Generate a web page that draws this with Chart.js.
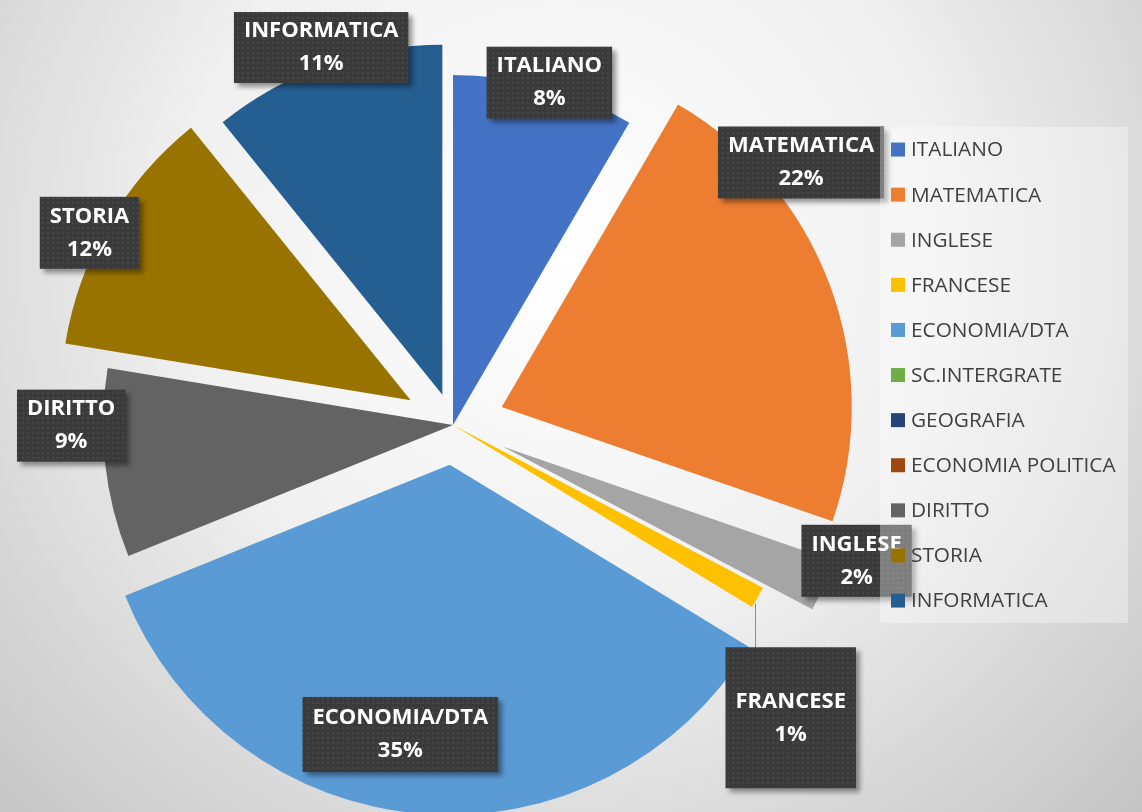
<!DOCTYPE html>
<html>
<head>
<meta charset="utf-8">
<script src="https://cdn.jsdelivr.net/npm/chart.js@4.4.1/dist/chart.umd.min.js"></script>
<style>
  html, body { margin: 0; padding: 0; overflow: hidden; background: #e6e6e6; }
  canvas { display: block; }
</style>
</head>
<body>
<canvas id="pie" width="1142" height="812"></canvas>
<script>
// ── Data ─────────────────────────────────────────────
const SUBJECTS = ['ITALIANO', 'MATEMATICA', 'INGLESE', 'FRANCESE', 'ECONOMIA/DTA', 'SC.INTERGRATE',
                  'GEOGRAFIA', 'ECONOMIA POLITICA', 'DIRITTO', 'STORIA', 'INFORMATICA'];
const SHARE    = [8.4, 21.9, 2.4, 1.0, 35.2, 0, 0, 0, 8.7, 11.6, 10.8];
const COLORS   = ['#4472C4', '#ED7D31', '#A5A5A5', '#FFC000', '#5B9BD5', '#70AD47',
                  '#264478', '#9E480E', '#636363', '#997300', '#255E91'];

// how far each slice is pulled out of the pie (px)
const EXPLODE  = [0, 52, 54, 0, 40, 0, 0, 0, 0, 49, 32];
// label box placement: [distance / radius, angle shift from slice middle (deg), box height, leader line]
const LABEL_PLACE = [
  [1.016, 0.6, 72], [1.104, -18.9, 72], [1.063, -5.5, 72], [1.277, 11.4, 141, true],
  [0.783, 5.7, 75], null, null, null, [1.091, 6.2, 72], [1.035, -2.7, 72], [1.051, 0.2, 71],
];

const LABEL_FONT  = 'bold 22px "Open Sans"';
const LEGEND_FONT = '20.8px "Open Sans"';

// ── Helpers ──────────────────────────────────────────
function dottedPattern(ctx) {
  const c = document.createElement('canvas');
  c.width = c.height = 5;
  const p = c.getContext('2d');
  p.fillStyle = '#3a3a3a'; p.fillRect(0, 0, 5, 5);
  p.fillStyle = '#474747'; p.fillRect(2, 2, 2, 2);
  return ctx.createPattern(c, 'repeat');
}

function explodedCenter(arc, i) {
  const mid = (arc.startAngle + arc.endAngle) / 2;
  return { x: arc.x + Math.cos(mid) * EXPLODE[i], y: arc.y + Math.sin(mid) * EXPLODE[i], mid };
}

// ── Plugins ──────────────────────────────────────────
const backdrop = {
  id: 'backdrop',
  beforeDraw(chart) {
    const { ctx, width, height } = chart;
    const g = ctx.createRadialGradient(560, 250, 0, 560, 250, 850);
    g.addColorStop(0, '#ffffff');
    g.addColorStop(0.45, '#f0f0f0');
    g.addColorStop(1, '#c0c0c0');
    ctx.save();
    ctx.fillStyle = g;
    ctx.fillRect(0, 0, width, height);
    ctx.restore();
  },
};

// draws every arc moved outward by its EXPLODE distance
const explode = {
  id: 'explode',
  beforeDatasetDraw(chart, args) {
    const ctx = chart.ctx;
    args.meta.data.forEach((arc, i) => {
      const c = explodedCenter(arc, i);
      ctx.save();
      ctx.translate(c.x - arc.x, c.y - arc.y);
      arc.draw(ctx);
      ctx.restore();
    });
    return false;
  },
};

const boxLabels = {
  id: 'boxLabels',
  afterDatasetsDraw(chart) {
    const ctx = chart.ctx;
    const total = SHARE.reduce((s, v) => s + v, 0);
    const pattern = dottedPattern(ctx);
    chart.getDatasetMeta(0).data.forEach((arc, i) => {
      const place = LABEL_PLACE[i];
      if (!place || !SHARE[i]) return;
      const c = explodedCenter(arc, i);
      const a = c.mid + place[1] * Math.PI / 180;
      const lx = c.x + Math.cos(a) * arc.outerRadius * place[0];
      const ly = c.y + Math.sin(a) * arc.outerRadius * place[0];
      const name = SUBJECTS[i];
      const pct = Math.round(SHARE[i] / total * 100) + '%';

      ctx.save();
      ctx.font = LABEL_FONT;
      const w = Math.max(ctx.measureText(name).width, ctx.measureText(pct).width) + 20;
      const h = place[2];
      const bx = lx - w / 2, by = ly - h / 2;

      if (place[3]) {
        const tx = c.x + Math.cos(c.mid) * arc.outerRadius;
        const ty = c.y + Math.sin(c.mid) * arc.outerRadius;
        ctx.strokeStyle = '#8c8c8c';
        ctx.lineWidth = 1;
        ctx.beginPath();
        ctx.moveTo(Math.round(tx) - 2.5, ty + 6);
        ctx.lineTo(Math.round(tx) - 2.5, by);
        ctx.stroke();
      }

      ctx.shadowColor = 'rgba(0,0,0,0.4)';
      ctx.shadowBlur = 5;
      ctx.shadowOffsetX = 4;
      ctx.shadowOffsetY = 4;
      ctx.fillStyle = pattern;
      ctx.fillRect(bx, by, w, h);
      ctx.shadowColor = 'transparent';

      ctx.fillStyle = '#ffffff';
      ctx.textAlign = 'center';
      ctx.textBaseline = 'middle';
      ctx.fillText(name, lx, ly - 16.5);
      ctx.fillText(pct, lx, ly + 16.5);
      ctx.restore();
    });
  },
};

const sideLegend = {
  id: 'sideLegend',
  afterDraw(chart) {
    const ctx = chart.ctx;
    const left = 880, top = 127, w = 248, rowH = 45.1;
    const labels = chart.data.labels;
    const colors = chart.data.datasets[0].backgroundColor;
    ctx.save();
    ctx.fillStyle = 'rgba(255,255,255,0.35)';
    ctx.fillRect(left, top, w, rowH * labels.length);
    ctx.font = LEGEND_FONT;
    ctx.textBaseline = 'middle';
    labels.forEach((lab, i) => {
      const cy = top + rowH * (i + 0.5);
      ctx.fillStyle = colors[i];
      ctx.fillRect(left + 11, cy - 7, 14, 14);
      ctx.fillStyle = '#404040';
      ctx.fillText(lab, left + 31, cy + 1);
    });
    ctx.restore();
  },
};

// ── Chart ────────────────────────────────────────────
new Chart(document.getElementById('pie'), {
  type: 'pie',
  data: {
    labels: SUBJECTS,
    datasets: [{ data: SHARE, backgroundColor: COLORS, borderWidth: 0 }],
  },
  options: {
    responsive: false,
    animation: false,
    events: [],
    radius: 350,
    layout: { padding: { left: 0, right: 236, top: 38, bottom: 0 } },
    plugins: { legend: { display: false }, tooltip: { enabled: false } },
  },
  plugins: [backdrop, explode, boxLabels, sideLegend],
});
</script>
</body>
</html>
